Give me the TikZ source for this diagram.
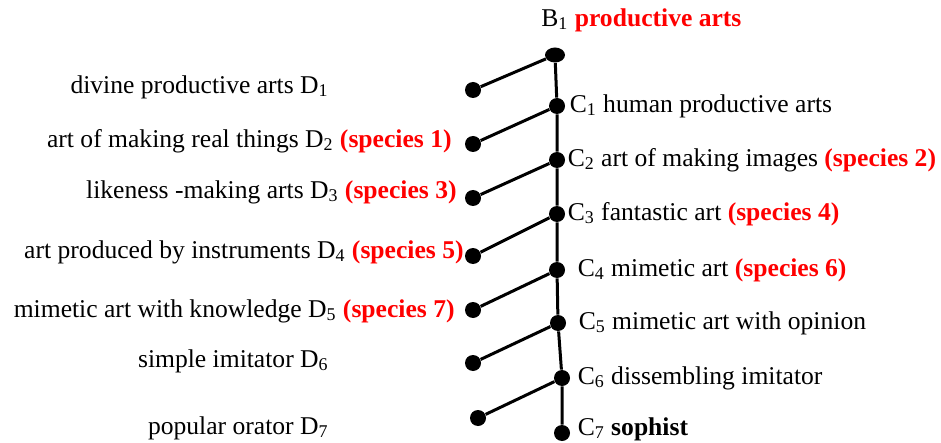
\documentclass[tikz,border=0pt]{standalone}
\usepackage{fontspec}
\setmainfont{Liberation Serif}
\usetikzlibrary{positioning, shapes.geometric}
\usepackage{xcolor}
\definecolor{speciesred}{HTML}{FF0000}
\newcommand{\spc}[1]{\textcolor{speciesred}{\textbf{(species #1)}}}

\begin{document}
\begin{tikzpicture}[
    x=0.5pt, y=-0.5pt,
    dot/.style={circle, fill=black, inner sep=0pt, minimum size=8pt},
    topdot/.style={ellipse, fill=black, inner sep=0pt, minimum width=10pt, minimum height=7.5pt},
    lbl/.style={inner sep=0pt, font=\fontsize{12.8}{15}\selectfont},
    branch/.style={line width=1.5pt},
]
\useasboundingbox (0,0) rectangle (941,443);

% Spine - C nodes
\node[topdot] (b1) at (555,55) {};
\node[dot] (c1) at (557,106) {};
\node[dot] (c2) at (557,160) {};
\node[dot] (c3) at (557,214) {};
\node[dot] (c4) at (557,270) {};
\node[dot] (c5) at (558,323) {};
\node[dot] (c6) at (562,378) {};
\node[dot] (c7) at (562,433) {};

% Left - D nodes
\node[dot] (d1) at (473,90) {};
\node[dot] (d2) at (473,144) {};
\node[dot] (d3) at (473,198) {};
\node[dot] (d4) at (473,256) {};
\node[dot] (d5) at (473,310) {};
\node[dot] (d6) at (473,363) {};
\node[dot] (d7) at (478,418) {};

% Lines
\draw[branch] (b1) -- (c1) -- (c2) -- (c3) -- (c4) -- (c5) -- (c6) -- (c7);
\foreach \d/\c in {d1/b1, d2/c1, d3/c2, d4/c3, d5/c4, d6/c5, d7/c6} {
    \draw[branch] (\d) -- (\c);
}

% Labels - right
\node[lbl, anchor=west] (b1lbl) at (541,20) {B\textsubscript{1} \textcolor{speciesred}{\textbf{productive arts}}};
\node[lbl, right=2pt of c1] (c1lbl) {C\textsubscript{1} human productive arts};
\node[lbl, right=1pt of c2] (c2lbl) {C\textsubscript{2} art of making images \spc{2}};
\node[lbl, right=1pt of c3] (c3lbl) {C\textsubscript{3} fantastic art \spc{4}};
\node[lbl, right=6pt of c4] (c4lbl) {C\textsubscript{4} mimetic art \spc{6}};
\node[lbl, right=6pt of c5] (c5lbl) {C\textsubscript{5} mimetic art with opinion};
\node[lbl, right=3.5pt of c6] (c6lbl) {C\textsubscript{6} dissembling imitator};
\node[lbl, right=3.5pt of c7, yshift=2pt] (c7lbl) {C\textsubscript{7} \textbf{sophist}};

% Labels - left
\node[lbl, anchor=east] (d1lbl) at (329,87) {divine productive arts D\textsubscript{1}};
\node[lbl, anchor=east] (d2lbl) at (452,141) {art of making real things D\textsubscript{2} \spc{1}};
\node[lbl, anchor=east] (d3lbl) at (457,192) {likeness -making arts D\textsubscript{3} \spc{3}};
\node[lbl, anchor=east] (d4lbl) at (464,252) {art produced by instruments D\textsubscript{4} \spc{5}};
\node[lbl, anchor=east] (d5lbl) at (455,311) {mimetic art with knowledge D\textsubscript{5} \spc{7}};
\node[lbl, anchor=east] (d6lbl) at (329,361) {simple imitator D\textsubscript{6}};
\node[lbl, anchor=east] (d7lbl) at (329,428) {popular orator D\textsubscript{7}};

\end{tikzpicture}
\end{document}
